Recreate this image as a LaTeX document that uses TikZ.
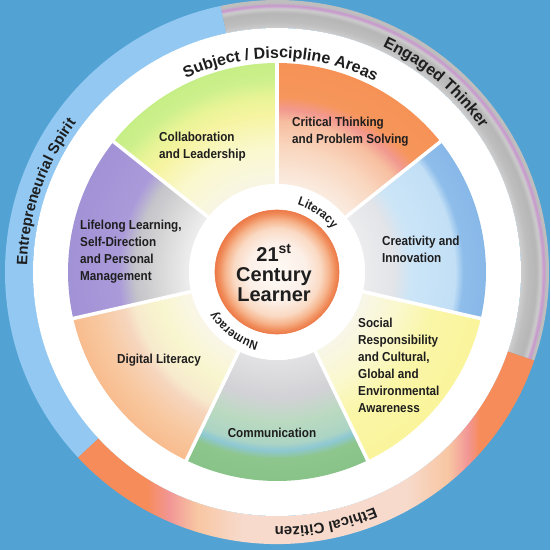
\documentclass[tikz,border=0pt]{standalone}
\usepackage{fontspec}
\usepackage{tikz}
\usetikzlibrary{decorations.text}
\setmainfont{Liberation Sans}
\newfontfamily\condf{Liberation Sans}[FakeStretch=0.9]
\definecolor{bgblue}{RGB}{82,163,212}
\definecolor{txt}{RGB}{30,30,30}
\definecolor{entblue}{RGB}{146,200,242}
% gray ring
\definecolor{gA}{RGB}{206,206,206}
\definecolor{gB}{RGB}{190,190,190}
\definecolor{gC}{RGB}{182,182,182}
\definecolor{gD}{RGB}{204,204,204}
\definecolor{gP}{RGB}{200,150,206}
\definecolor{gE}{RGB}{190,190,190}
% ethical ring
\definecolor{eO}{RGB}{246,140,90}
\definecolor{eK}{RGB}{242,150,150}
\definecolor{eP}{RGB}{248,198,162}
\definecolor{eL}{RGB}{247,218,204}
% collaboration
\definecolor{caA}{RGB}{248,246,228}
\definecolor{caB}{RGB}{250,248,205}
\definecolor{caC}{RGB}{246,244,160}
\definecolor{caD}{RGB}{232,244,150}
\definecolor{caE}{RGB}{205,240,140}
\definecolor{caF}{RGB}{198,238,134}
% critical
\definecolor{crA}{RGB}{250,236,225}
\definecolor{crB}{RGB}{249,214,190}
\definecolor{crC}{RGB}{247,190,160}
\definecolor{crD}{RGB}{242,152,142}
\definecolor{crE}{RGB}{246,150,92}
\definecolor{crF}{RGB}{246,146,86}
% creativity
\definecolor{cvA}{RGB}{236,236,238}
\definecolor{cvB}{RGB}{226,228,232}
\definecolor{cvC}{RGB}{204,229,247}
\definecolor{cvD}{RGB}{194,223,246}
\definecolor{cvE}{RGB}{142,189,234}
\definecolor{cvF}{RGB}{136,184,232}
% social
\definecolor{soA}{RGB}{248,246,232}
\definecolor{soB}{RGB}{250,248,205}
\definecolor{soC}{RGB}{250,246,168}
\definecolor{soD}{RGB}{250,244,155}
% communication
\definecolor{cmA}{RGB}{226,226,228}
\definecolor{cmB}{RGB}{210,210,214}
\definecolor{cmC}{RGB}{186,218,192}
\definecolor{cmD}{RGB}{172,212,196}
\definecolor{cmE}{RGB}{142,200,212}
\definecolor{cmF}{RGB}{142,198,142}
\definecolor{cmG}{RGB}{136,195,136}
% digital
\definecolor{dgA}{RGB}{250,246,232}
\definecolor{dgB}{RGB}{248,246,206}
\definecolor{dgC}{RGB}{247,234,205}
\definecolor{dgD}{RGB}{246,214,190}
\definecolor{dgE}{RGB}{248,200,160}
\definecolor{dgF}{RGB}{248,188,142}
% lifelong
\definecolor{llA}{RGB}{238,238,238}
\definecolor{llB}{RGB}{216,216,216}
\definecolor{llC}{RGB}{196,196,202}
\definecolor{llD}{RGB}{170,154,218}
\definecolor{llE}{RGB}{162,146,214}
% centre
\definecolor{ceA}{RGB}{255,250,246}
\definecolor{ceB}{RGB}{252,240,232}
\definecolor{ceC}{RGB}{250,218,196}
\definecolor{ceD}{RGB}{246,180,140}
\definecolor{ceE}{RGB}{240,140,90}
\definecolor{ceF}{RGB}{236,122,72}

\pgfdeclareradialshading{shGray}{\pgfpoint{0bp}{0bp}}{color(0bp)=(gA); color(22.4bp)=(gA); color(23bp)=(gB); color(23.8bp)=(gC); color(24.2bp)=(gD); color(24.5bp)=(gP); color(24.75bp)=(gE); color(25bp)=(gE); color(50bp)=(gE)}
\pgfdeclarehorizontalshading{shEth}{100bp}{color(0bp)=(eO); color(32.5bp)=(eO); color(35bp)=(eK); color(38bp)=(eP); color(43bp)=(eL); color(61bp)=(eL); color(65.6bp)=(eP); color(67.7bp)=(eK); color(69bp)=(eO); color(100bp)=(eO)}
\pgfdeclareradialshading{shCollab}{\pgfpoint{0bp}{0bp}}{color(0bp)=(caA); color(10.5bp)=(caA); color(15bp)=(caB); color(19bp)=(caC); color(21bp)=(caD); color(23bp)=(caE); color(25bp)=(caF); color(50bp)=(caF)}
\pgfdeclareradialshading{shCrit}{\pgfpoint{0bp}{0bp}}{color(0bp)=(crA); color(10.5bp)=(crA); color(15bp)=(crB); color(18bp)=(crC); color(19.5bp)=(crD); color(21bp)=(crE); color(25bp)=(crF); color(50bp)=(crF)}
\pgfdeclareradialshading{shCrea}{\pgfpoint{0bp}{0bp}}{color(0bp)=(cvA); color(10.5bp)=(cvA); color(14bp)=(cvB); color(16bp)=(cvC); color(21.3bp)=(cvD); color(22.3bp)=(cvE); color(25bp)=(cvF); color(50bp)=(cvF)}
\pgfdeclareradialshading{shSoc}{\pgfpoint{0bp}{0bp}}{color(0bp)=(soA); color(10.5bp)=(soA); color(15bp)=(soB); color(19bp)=(soC); color(25bp)=(soD); color(50bp)=(soD)}
\pgfdeclareradialshading{shComm}{\pgfpoint{0bp}{0bp}}{color(0bp)=(cmA); color(10.5bp)=(cmA); color(15bp)=(cmB); color(18bp)=(cmC); color(20.5bp)=(cmD); color(21.3bp)=(cmE); color(22.3bp)=(cmF); color(25bp)=(cmG); color(50bp)=(cmG)}
\pgfdeclareradialshading{shDig}{\pgfpoint{0bp}{0bp}}{color(0bp)=(dgA); color(10.5bp)=(dgA); color(14.5bp)=(dgB); color(17.5bp)=(dgC); color(18.8bp)=(dgD); color(22bp)=(dgE); color(25bp)=(dgF); color(50bp)=(dgF)}
\pgfdeclareradialshading{shLife}{\pgfpoint{0bp}{0bp}}{color(0bp)=(llA); color(10.5bp)=(llA); color(14bp)=(llB); color(17bp)=(llC); color(19bp)=(llD); color(25bp)=(llE); color(50bp)=(llE)}
\pgfdeclareradialshading{shCenter}{\pgfpoint{0bp}{0bp}}{color(0bp)=(ceA); color(11.7bp)=(ceB); color(17.6bp)=(ceC); color(21bp)=(ceD); color(23.5bp)=(ceE); color(25bp)=(ceF); color(50bp)=(ceF)}

\newcommand\wsector[3]{%
  \begin{scope}
    \clip (#1:88) arc[start angle=#1, end angle=#2, radius=88] -- (#2:209) arc[start angle=#2, end angle=#1, radius=209] -- cycle;
    \shade[shading=#3] (0,0) circle (209);
  \end{scope}}

\tikzset{
  lab/.style={font=\condf\bfseries\fontsize{13}{17}\selectfont, text=txt, align=left, inner sep=0pt},
  mid/.style={font=\bfseries\fontsize{20}{20}\selectfont, text=txt, align=center, inner sep=0pt},
  sep/.style={white, line width=3.5pt}
}

\begin{document}
\begin{tikzpicture}[x=1pt, y=1pt]
\useasboundingbox (-277,-278) rectangle (273,272);
\fill[bgblue] (-277,-278) rectangle (273,272);

% outer ring
\fill[entblue] (102:244) arc[start angle=102, end angle=223, radius=244] -- (223:272) arc[start angle=223, end angle=102, radius=272] -- cycle;
\begin{scope}
  \clip (-19:244) arc[start angle=-19, end angle=102, radius=244] -- (102:272) arc[start angle=102, end angle=-19, radius=272] -- cycle;
  \shade[shading=shGray] (0,0) circle (272);
\end{scope}
\shade[shading=shEth] (223:244) arc[start angle=223, end angle=341, radius=244] -- (341:272) arc[start angle=341, end angle=223, radius=272] -- cycle;

% white ring
\fill[white] (0,0) circle (244);

% sectors
\wsector{90}{141.429}{shCollab}
\wsector{38.571}{90}{shCrit}
\wsector{-12.857}{38.571}{shCrea}
\wsector{-64.286}{-12.857}{shSoc}
\wsector{-115.714}{-64.286}{shComm}
\wsector{-167.143}{-115.714}{shDig}
\wsector{141.429}{192.857}{shLife}
\foreach \a in {90,38.571,-12.857,-64.286,-115.714,-167.143,141.429}
  \draw[sep] (0,0) -- (\a:212);
\fill[white] (0,0) circle (88);

% centre
\shade[shading=shCenter] (0,0) circle (62);
\draw[ceF, line width=0.6pt] (0,0) circle (62);

% sector labels
\node[lab, anchor=west] (collab) at (-118,125) {Collaboration\\and Leadership};
\node[lab, anchor=west] (crit) at (15,140) {Critical Thinking\\and Problem Solving};
\node[lab, anchor=west] (crea) at (105,23) {Creativity and\\Innovation};
\node[lab, anchor=west] (soc) at (81,-93.5) {Social\\Responsibility\\and Cultural,\\Global and\\Environmental\\Awareness};
\node[lab] (comm) at (-5,-161) {Communication};
\node[lab] (dig) at (-118,-88) {Digital Literacy};
\node[lab, anchor=west] (life) at (-197,20) {Lifelong Learning,\\Self-Direction\\and Personal\\Management};
\node[mid] (learner) at (-3,-1) {21\textsuperscript{st}\\Century\\Learner};

% curved texts
\path[decorate, decoration={text along path, text align=center,
  text={|\bfseries\fontsize{16}{16}\selectfont\color{txt}|Subject / Discipline Areas}}]
  (130:214) arc[start angle=130, end angle=48, radius=214];
\path[decorate, decoration={text along path, text align=center,
  text={|\bfseries\fontsize{16}{16}\selectfont\color{txt}|Engaged Thinker}}]
  (80:249) arc[start angle=80, end angle=20, radius=249];
\path[decorate, decoration={text along path, text align=center,
  text={|\bfseries\fontsize{15}{15}\selectfont\color{txt}|Entrepreneurial Spirit}}]
  (195:250) arc[start angle=195, end angle=127, radius=250];
\path[decorate, decoration={text along path, text align=center,
  text={|\bfseries\fontsize{15}{15}\selectfont\color{txt}|Ethical Citizen}}]
  (310:255) arc[start angle=310, end angle=252, radius=255];
\path[decorate, decoration={text along path, text align=center,
  text={|\condf\bfseries\fontsize{12.5}{12.5}\selectfont\color{txt}|Literacy}}]
  (100:70) arc[start angle=100, end angle=11, radius=70];
\path[decorate, decoration={text along path, text align=center,
  text={|\condf\bfseries\fontsize{12.5}{12.5}\selectfont\color{txt}|Numeracy}}]
  (280:73) arc[start angle=280, end angle=188, radius=73];
\end{tikzpicture}
\end{document}
